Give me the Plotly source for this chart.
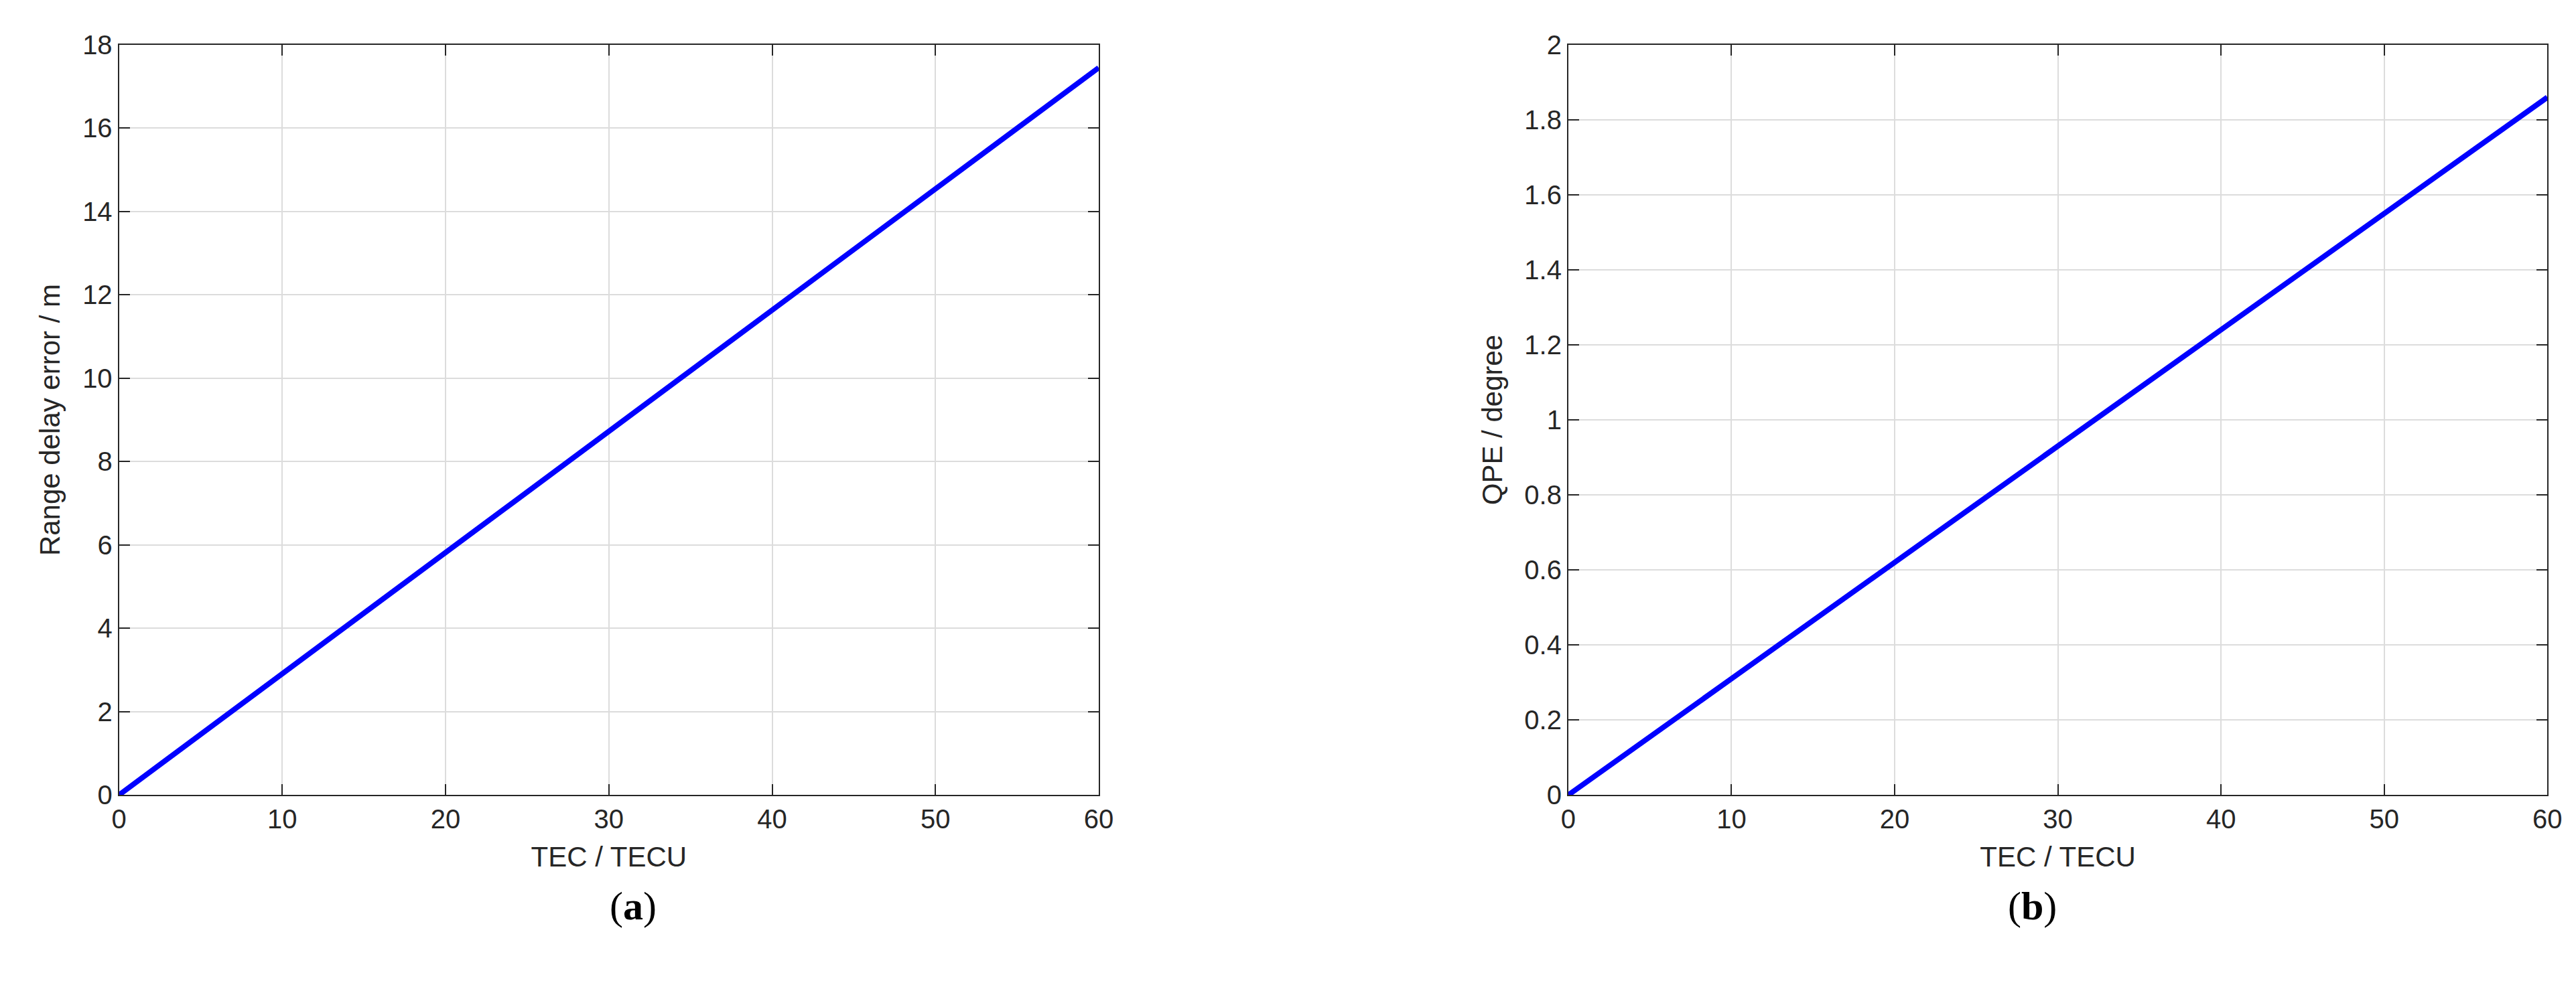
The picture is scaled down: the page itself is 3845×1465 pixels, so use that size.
import plotly.graph_objects as go

tec = [0, 60]
range_delay = [0, 17.45]
qpe = [0, 1.86]
x_ticks = [0, 10, 20, 30, 40, 50, 60]
y1_ticks = [0, 2, 4, 6, 8, 10, 12, 14, 16, 18]
y2_ticks = [0, 0.2, 0.4, 0.6, 0.8, 1, 1.2, 1.4, 1.6, 1.8, 2]
y2_labels = ["0", "0.2", "0.4", "0.6", "0.8", "1", "1.2", "1.4", "1.6", "1.8", "2"]

W, H = 3845, 1465
fig = go.Figure()
fig.add_trace(go.Scatter(x=tec, y=range_delay, mode="lines", line=dict(color="#0000ff", width=8),
                         xaxis="x", yaxis="y", showlegend=False))
fig.add_trace(go.Scatter(x=tec, y=qpe, mode="lines", line=dict(color="#0000ff", width=8),
                         xaxis="x2", yaxis="y2", showlegend=False))

font = dict(family="Liberation Sans, Arial", size=40, color="#262626")
common = dict(showline=True, linecolor="#262626", linewidth=2, mirror="ticks", ticks="inside",
              ticklen=16, tickwidth=2, tickcolor="#262626", showgrid=True, gridcolor="#dcdcdc",
              gridwidth=2, zeroline=False, tickfont=font)
ydom = [1 - 1193 / H, 1 - 38 / H]
fig.update_layout(
    width=W, height=H, margin=dict(l=0, r=0, t=0, b=0),
    plot_bgcolor="white", paper_bgcolor="white",
    xaxis=dict(domain=[160 / W, 1635 / W], range=[0, 60], tickvals=x_ticks, anchor="y",
               title=dict(text="TEC / TECU", font=dict(size=42, family="Liberation Sans, Arial", color="#262626"), standoff=20), **common),
    yaxis=dict(domain=ydom, range=[0, 18], tickvals=y1_ticks, anchor="x",
               title=dict(text="Range delay error / m", font=dict(size=42, family="Liberation Sans, Arial", color="#262626"), standoff=20), **common),
    xaxis2=dict(domain=[2342 / W, 3816 / W], range=[0, 60], tickvals=x_ticks, anchor="y2",
                title=dict(text="TEC / TECU", font=dict(size=42, family="Liberation Sans, Arial", color="#262626"), standoff=20), **common),
    yaxis2=dict(domain=ydom, range=[0, 2], tickvals=y2_ticks, ticktext=y2_labels, anchor="x2",
                title=dict(text="QPE / degree", font=dict(size=42, family="Liberation Sans, Arial", color="#262626"), standoff=20), **common),
    annotations=[
        dict(text="(<b>a</b>)", x=897 / W, y=1 - 1400 / H, xref="paper", yref="paper", showarrow=False,
             font=dict(family="Liberation Serif, Times New Roman", size=60, color="black")),
        dict(text="(<b>b</b>)", x=3079 / W, y=1 - 1400 / H, xref="paper", yref="paper", showarrow=False,
             font=dict(family="Liberation Serif, Times New Roman", size=60, color="black")),
    ],
)
fig.write_html("out.html")
